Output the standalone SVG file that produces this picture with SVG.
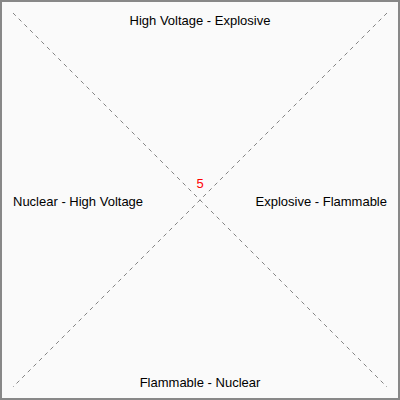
<svg xmlns="http://www.w3.org/2000/svg" width="400" height="400" viewBox="0 0 400 400">
<style>
.lbl{font-family:"Liberation Sans",Arial,sans-serif;font-size:13px;fill:#000}
.con{stroke:#666;stroke-width:0.8;stroke-dasharray:4,4;fill:none}
</style>
<rect x="1" y="1" width="398" height="398" fill="#fafafa" stroke="#888" stroke-width="2"/>
<g id="connectors">
<line class="con" x1="13" y1="13" x2="387" y2="387"/>
<line class="con" x1="387" y1="13" x2="13" y2="387"/>
</g>
<g id="top"><text class="lbl" x="200" y="25" text-anchor="middle">High Voltage - Explosive</text></g>
<g id="bottom"><text class="lbl" x="200" y="387" text-anchor="middle">Flammable - Nuclear</text></g>
<g id="left"><text class="lbl" x="13" y="206">Nuclear - High Voltage</text></g>
<g id="right"><text class="lbl" x="387" y="206" text-anchor="end">Explosive - Flammable</text></g>
<g id="center"><text class="lbl" x="200" y="188" text-anchor="middle" style="fill:#f00">5</text></g>
</svg>
